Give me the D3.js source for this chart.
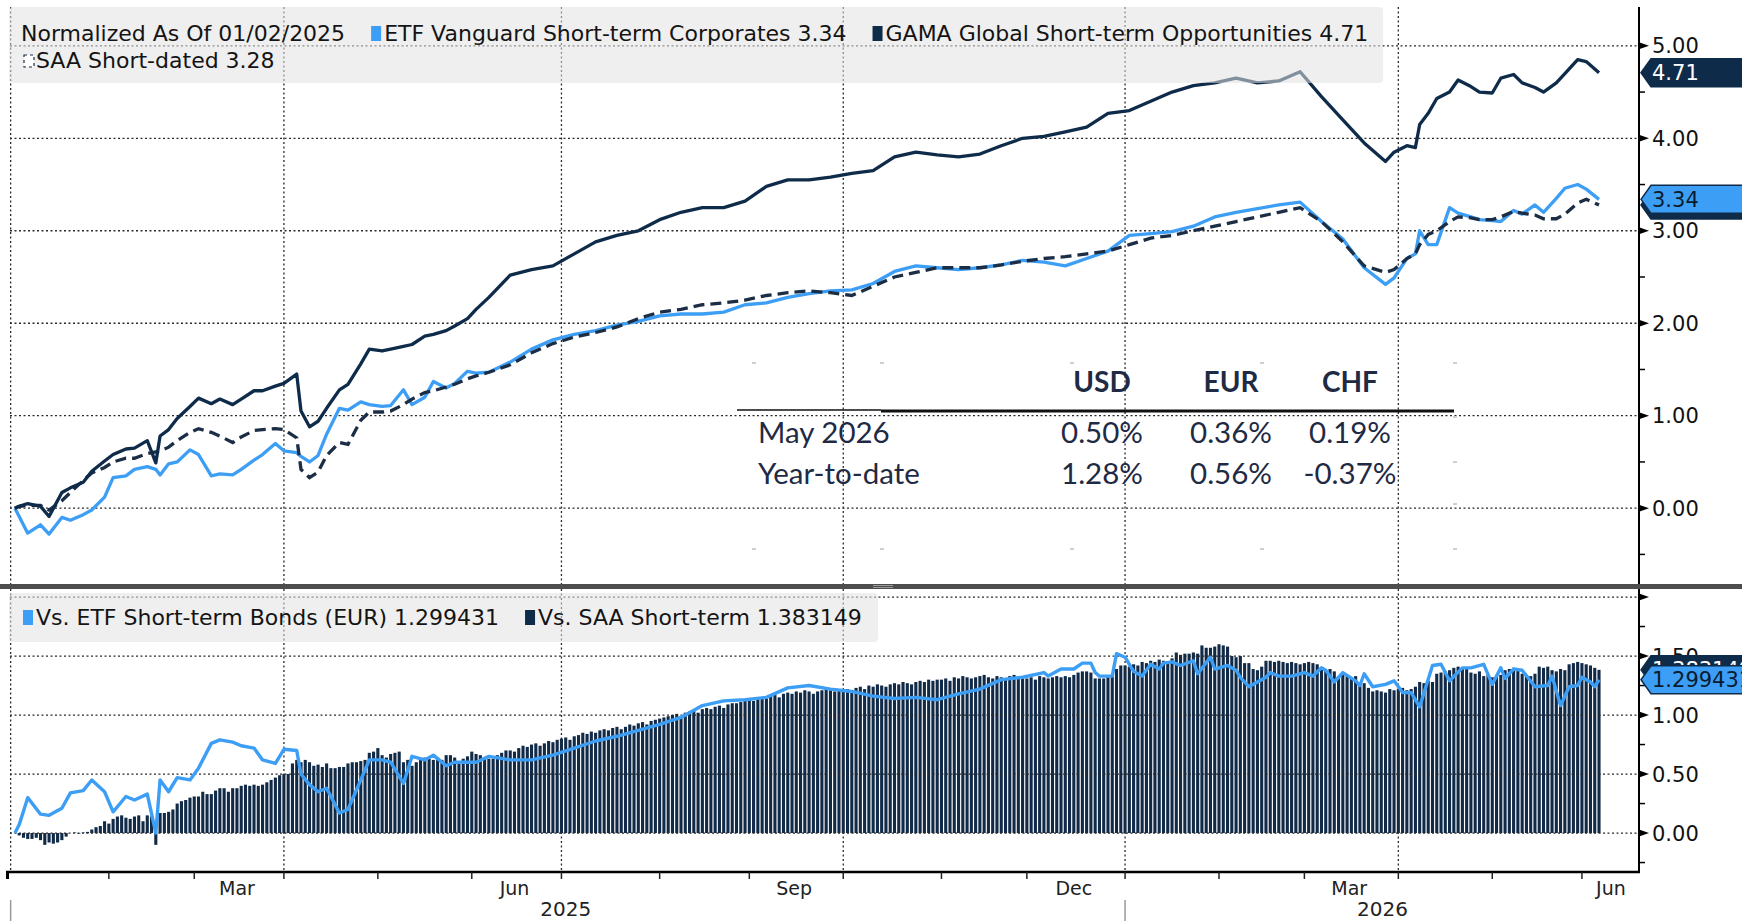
<!DOCTYPE html>
<html>
<head>
<meta charset="utf-8">
<script src="https://cdn.jsdelivr.net/npm/d3@7/dist/d3.min.js"></script>
<style>
  body { margin: 0; background: #fff; }
  svg { display: block; font-family: "DejaVu Sans", sans-serif; }
</style>
</head>
<body>
<svg id="chart" width="1742" height="921"></svg>
<script>
// ---- data ----
// top panel sample dates: twice a week where the picture could be read closely, weekly elsewhere
const lineDates = [
  '2025-01-02','2025-01-03','2025-01-07','2025-01-10','2025-01-14','2025-01-17','2025-01-21','2025-01-24','2025-01-28','2025-01-31',
  '2025-02-04','2025-02-07','2025-02-11','2025-02-14','2025-02-18','2025-02-19','2025-02-21','2025-02-25','2025-02-28',
  '2025-03-04','2025-03-07','2025-03-11','2025-03-14','2025-03-18','2025-03-21','2025-03-25','2025-03-28',
  '2025-04-01','2025-04-04','2025-04-07','2025-04-09','2025-04-11','2025-04-15','2025-04-18','2025-04-22','2025-04-25','2025-04-29',
  '2025-05-02','2025-05-06','2025-05-09','2025-05-13','2025-05-16','2025-05-20','2025-05-23','2025-05-27','2025-05-30',
  '2025-06-03','2025-06-06','2025-06-13','2025-06-20','2025-06-27',
  '2025-07-04','2025-07-11','2025-07-18','2025-07-25',
  '2025-08-01','2025-08-08','2025-08-15','2025-08-22','2025-08-29',
  '2025-09-05','2025-09-12','2025-09-19','2025-09-26',
  '2025-10-03','2025-10-10','2025-10-17','2025-10-24','2025-10-31',
  '2025-11-07','2025-11-14','2025-11-21','2025-11-28',
  '2025-12-05','2025-12-12','2025-12-19','2025-12-26',
  '2026-01-02','2026-01-09','2026-01-16','2026-01-23','2026-01-30',
  '2026-02-06','2026-02-13','2026-02-20','2026-02-27',
  '2026-03-06','2026-03-13','2026-03-20','2026-03-27','2026-03-31',
  '2026-04-03','2026-04-07','2026-04-08','2026-04-10','2026-04-14','2026-04-17','2026-04-21','2026-04-24','2026-04-28',
  '2026-05-01','2026-05-05','2026-05-08','2026-05-12','2026-05-15','2026-05-19','2026-05-22','2026-05-26','2026-05-29',
  '2026-06-02','2026-06-05'
];

const gamaValues = [
  0, 0.02, 0.05, 0.02, -0.09, 0.17, 0.22, 0.28, 0.40, 0.51,
  0.58, 0.64, 0.65, 0.73, 0.49, 0.78, 0.85, 0.97, 1.10,
  1.19, 1.13, 1.18, 1.12, 1.18, 1.27, 1.27, 1.32,
  1.35, 1.45, 1.05, 0.88, 0.94, 1.08, 1.28, 1.34, 1.56, 1.72,
  1.70, 1.72, 1.75, 1.77, 1.86, 1.88, 1.92, 1.97, 2.05,
  2.15, 2.28, 2.52, 2.58, 2.62,
  2.75, 2.88, 2.95, 3.00,
  3.12, 3.20, 3.25, 3.25, 3.32,
  3.48, 3.55, 3.55, 3.58,
  3.62, 3.65, 3.80, 3.85, 3.82,
  3.80, 3.83, 3.92, 4.00,
  4.02, 4.07, 4.12, 4.27,
  4.30, 4.40, 4.50, 4.57, 4.60,
  4.65, 4.60, 4.62, 4.72,
  4.45, 4.20, 3.95, 3.75, 3.85,
  3.92, 3.90, 4.15, 4.27, 4.43, 4.50, 4.63, 4.56, 4.50,
  4.49, 4.65, 4.69, 4.60, 4.55, 4.50, 4.60, 4.70, 4.85,
  4.83, 4.71
];

const etfValues = [
  0, -0.09, -0.27, -0.18, -0.28, -0.10, -0.13, -0.07, -0.02, 0.12,
  0.33, 0.35, 0.42, 0.45, 0.42, 0.36, 0.48, 0.50, 0.63,
  0.58, 0.35, 0.37, 0.36, 0.42, 0.52, 0.58, 0.70,
  0.62, 0.60, 0.56, 0.50, 0.57, 0.80, 1.08, 1.06, 1.15, 1.12,
  1.10, 1.11, 1.28, 1.12, 1.20, 1.37, 1.30, 1.35, 1.48,
  1.46, 1.47, 1.58, 1.72, 1.82,
  1.88, 1.92, 1.98, 2.02,
  2.08, 2.10, 2.10, 2.12, 2.20,
  2.22, 2.28, 2.32, 2.35,
  2.36, 2.43, 2.56, 2.62, 2.60,
  2.58, 2.60, 2.63, 2.68,
  2.66, 2.62, 2.70, 2.78,
  2.95, 2.97, 2.99, 3.05, 3.15,
  3.20, 3.24, 3.28, 3.31,
  3.10, 2.91, 2.60, 2.42, 2.49,
  2.70, 2.75, 3.00, 2.85, 2.85, 3.25, 3.19, 3.15, 3.12,
  3.11, 3.10, 3.22, 3.18, 3.28, 3.20, 3.35, 3.46, 3.50,
  3.45, 3.34
];

const saaValues = [
  0, 0.02, 0.03, 0.03, -0.02, 0.08, 0.17, 0.30, 0.38, 0.44,
  0.50, 0.54, 0.54, 0.59, 0.61, 0.62, 0.66, 0.73, 0.82,
  0.86, 0.82, 0.78, 0.71, 0.77, 0.84, 0.85, 0.86,
  0.85, 0.76, 0.42, 0.33, 0.39, 0.57, 0.71, 0.69, 0.95, 1.04,
  1.04, 1.05, 1.12, 1.18, 1.25, 1.27, 1.31, 1.34, 1.40,
  1.43, 1.47, 1.55, 1.68, 1.78,
  1.85, 1.90, 1.96, 2.05,
  2.12, 2.15, 2.20, 2.22, 2.25,
  2.30, 2.33, 2.35, 2.33,
  2.30, 2.40, 2.50, 2.55, 2.60,
  2.60, 2.60, 2.63, 2.67,
  2.70, 2.72, 2.75, 2.78,
  2.85, 2.92, 2.95, 3.00, 3.05,
  3.10, 3.15, 3.20, 3.25,
  3.10, 2.88, 2.62, 2.55, 2.58,
  2.70, 2.75, 2.85, 2.96, 3.00, 3.10, 3.15, 3.14, 3.12,
  3.12, 3.15, 3.21, 3.19, 3.17, 3.13, 3.13, 3.18, 3.30,
  3.34, 3.28
];

// bottom panel line has its own sample dates (read more closely from Dec 2025 on)
const vsEtfDates = [
  '2025-01-02','2025-01-03','2025-01-07','2025-01-10','2025-01-14','2025-01-17','2025-01-21','2025-01-24','2025-01-28','2025-01-31',
  '2025-02-04','2025-02-07','2025-02-11','2025-02-14','2025-02-18','2025-02-19','2025-02-21','2025-02-25','2025-02-28',
  '2025-03-04','2025-03-07','2025-03-11','2025-03-14','2025-03-18','2025-03-21','2025-03-25','2025-03-28',
  '2025-04-01','2025-04-04','2025-04-07','2025-04-09','2025-04-11','2025-04-15','2025-04-18','2025-04-22','2025-04-25','2025-04-29',
  '2025-05-02','2025-05-06','2025-05-09','2025-05-13','2025-05-16','2025-05-20','2025-05-23','2025-05-27','2025-05-30',
  '2025-06-03','2025-06-06','2025-06-13','2025-06-20','2025-06-27',
  '2025-07-04','2025-07-11','2025-07-18','2025-07-25',
  '2025-08-01','2025-08-08','2025-08-15','2025-08-22','2025-08-29',
  '2025-09-05','2025-09-12','2025-09-19','2025-09-26',
  '2025-10-03','2025-10-10','2025-10-17','2025-10-24','2025-10-31',
  '2025-11-07','2025-11-14','2025-11-21','2025-11-28','2025-12-05',
  '2025-12-08','2025-12-11','2025-12-16','2025-12-18','2025-12-22','2025-12-23','2025-12-24','2025-12-29','2025-12-30',
  '2026-01-01','2026-01-05','2026-01-07','2026-01-09','2026-01-13','2026-01-14','2026-01-16','2026-01-20','2026-01-23','2026-01-26','2026-01-29','2026-01-30',
  '2026-02-04','2026-02-06','2026-02-09','2026-02-11','2026-02-17','2026-02-18','2026-02-20','2026-02-25',
  '2026-03-02','2026-03-04','2026-03-06','2026-03-09','2026-03-11','2026-03-13','2026-03-18','2026-03-19','2026-03-20','2026-03-24','2026-03-27','2026-03-31',
  '2026-04-02','2026-04-06','2026-04-08','2026-04-13','2026-04-15','2026-04-17','2026-04-22','2026-04-24','2026-04-29',
  '2026-05-01','2026-05-05','2026-05-06','2026-05-08','2026-05-12','2026-05-15','2026-05-20','2026-05-21','2026-05-25','2026-05-27','2026-05-29',
  '2026-06-01','2026-06-03','2026-06-04','2026-06-05'
];

const vsEtfValues = [
  0, 0.07, 0.30, 0.16, 0.15, 0.21, 0.34, 0.36, 0.45, 0.35,
  0.18, 0.31, 0.28, 0.33, 0.00, 0.45, 0.35, 0.47, 0.45,
  0.55, 0.76, 0.79, 0.77, 0.74, 0.72, 0.62, 0.59,
  0.71, 0.70, 0.50, 0.41, 0.35, 0.38, 0.17, 0.20, 0.45, 0.62,
  0.62, 0.60, 0.42, 0.65, 0.62, 0.66, 0.57, 0.60, 0.60,
  0.60, 0.65, 0.62, 0.62, 0.66,
  0.72, 0.78, 0.82, 0.87,
  0.92, 0.98, 1.08, 1.12, 1.13,
  1.15, 1.23, 1.25, 1.22,
  1.20, 1.16, 1.14, 1.15, 1.13,
  1.18, 1.22, 1.30, 1.32, 1.36,
  1.33, 1.39, 1.39, 1.44, 1.44, 1.36, 1.33, 1.33, 1.52,
  1.49, 1.37, 1.33, 1.43, 1.39, 1.44, 1.45, 1.42, 1.46, 1.35, 1.49, 1.39,
  1.42, 1.38, 1.32, 1.24, 1.32, 1.36, 1.33, 1.33,
  1.36, 1.33, 1.40, 1.38, 1.28, 1.36, 1.29, 1.25, 1.35, 1.24, 1.26, 1.29,
  1.19, 1.19, 1.07, 1.42, 1.43, 1.29, 1.40, 1.40, 1.43,
  1.26, 1.40, 1.31, 1.39, 1.38, 1.24, 1.25, 1.33, 1.08, 1.24, 1.25,
  1.32, 1.28, 1.24, 1.299
];

// daily bars, every weekday from 2025-01-02 (one row per month)
const vsSaaBars = [
  0,-0.02,-0.04,-0.05,-0.05,-0.04,-0.06,-0.1,-0.08,-0.09,-0.08,-0.06,-0.03,0,0.005,-0.005,0.005,0.01,0.03,0.05,0.06,0.1,
  0.08,0.12,0.14,0.15,0.13,0.12,0.14,0.15,0.1,0.15,0.14,-0.1,0.17,0.17,0.18,0.2,0.25,0.27,0.28,0.3,
  0.31,0.31,0.35,0.33,0.33,0.36,0.38,0.38,0.35,0.38,0.38,0.4,0.41,0.4,0.41,0.4,0.41,0.43,0.45,0.47,0.49,
  0.5,0.5,0.59,0.62,0.6,0.62,0.6,0.57,0.58,0.56,0.59,0.55,0.55,0.56,0.56,0.59,0.6,0.6,0.61,0.62,0.68,0.69,
  0.72,0.66,0.64,0.67,0.68,0.69,0.6,0.62,0.57,0.6,0.62,0.64,0.63,0.62,0.64,0.62,0.66,0.66,0.64,0.61,0.63,0.65,
  0.69,0.67,0.66,0.64,0.63,0.63,0.66,0.68,0.7,0.7,0.69,0.72,0.74,0.73,0.75,0.76,0.74,0.76,0.78,0.77,0.79,
  0.8,0.81,0.79,0.82,0.83,0.85,0.84,0.86,0.85,0.87,0.88,0.87,0.89,0.9,0.88,0.9,0.92,0.91,0.93,0.94,0.92,0.95,0.96,
  0.97,0.98,0.99,1.0,1.01,0.99,1.02,1.03,1.04,1.02,1.05,1.06,1.05,1.07,1.08,1.06,1.09,1.1,1.1,1.11,1.12,
  1.13,1.12,1.14,1.15,1.14,1.16,1.17,1.15,1.18,1.19,1.18,1.2,1.19,1.21,1.2,1.18,1.2,1.21,1.22,1.21,1.2,1.22,
  1.21,1.22,1.2,1.23,1.24,1.22,1.25,1.24,1.26,1.25,1.24,1.26,1.27,1.26,1.28,1.27,1.26,1.28,1.29,1.28,1.3,1.29,1.3,
  1.3,1.31,1.29,1.32,1.31,1.33,1.32,1.31,1.32,1.33,1.34,1.32,1.31,1.33,1.32,1.31,1.33,1.34,1.32,1.31,
  1.31,1.32,1.3,1.33,1.32,1.31,1.32,1.33,1.32,1.33,1.32,1.34,1.36,1.37,1.37,1.36,1.31,1.31,1.31,1.32,1.33,1.39,1.42,
  1.42,1.41,1.43,1.42,1.45,1.44,1.46,1.45,1.47,1.46,1.45,1.48,1.53,1.51,1.52,1.52,1.53,1.52,1.59,1.57,1.57,1.58,
  1.6,1.59,1.58,1.5,1.49,1.5,1.44,1.44,1.39,1.38,1.41,1.46,1.46,1.45,1.46,1.45,1.44,1.45,1.44,1.43,
  1.44,1.45,1.44,1.43,1.39,1.38,1.39,1.37,1.33,1.34,1.33,1.32,1.33,1.25,1.27,1.23,1.2,1.21,1.2,1.19,1.22,1.21,
  1.22,1.23,1.21,1.22,1.24,1.28,1.27,1.29,1.28,1.35,1.36,1.37,1.38,1.4,1.41,1.4,1.39,1.36,1.35,1.37,1.33,1.34,
  1.32,1.33,1.34,1.38,1.39,1.4,1.38,1.35,1.34,1.33,1.35,1.41,1.4,1.41,1.38,1.37,1.39,1.38,1.43,1.44,1.45,
  1.44,1.43,1.42,1.4,1.383
];

const topTicks = [0, 1, 2, 3, 4, 5];
const topMinorTicks = [-0.5, 0.5, 1.5, 2.5, 3.5, 4.5];
const bottomTicks = [0, 0.5, 1, 1.5];
const bottomGridTicks = [0, 0.5, 1, 1.5, 2];
const bottomMinorTicks = [-0.25, 0.25, 0.75, 1.25, 1.75];
const labelledMonths = [2, 5, 8, 11]; // Mar, Jun, Sep, Dec

const tableColumns = ['USD', 'EUR', 'CHF'];
const tableRowLabels = ['May 2026', 'Year-to-date'];
const tableValues = [
  ['0.50%', '0.36%', '0.19%'],
  ['1.28%', '0.56%', '-0.37%']
];

// ---- setup ----
const svg = d3.select('#chart');
const W = 1742;
const NAVY = '#0f2b4a';
const BLUE = '#3d9ef5';
const GRID = '#2a2a2a';
const AXIS_X = 1639;

const fmtDay = d3.timeFormat('%Y-%m-%d');
const days = d3.timeDay.range(new Date(2025, 0, 1), new Date(2026, 5, 20))
  .filter(d => d.getDay() !== 0 && d.getDay() !== 6);
const dayIndex = new Map(days.map((d, i) => [fmtDay(d), i]));

// x axis is laid out by trading day
const x = d3.scaleLinear().domain([-0.15, 381.6]).range([10, 1640]);
const yTop = d3.scaleLinear().domain([-0.82, 5.42]).range([584, 7]);
const yBot = d3.scaleLinear().domain([-0.33, 2.068]).range([872, 589]);

const defs = svg.append('defs');
defs.append('clipPath').attr('id', 'clip-top')
  .append('rect').attr('x', 10).attr('y', 7).attr('width', AXIS_X - 10).attr('height', 577);
defs.append('clipPath').attr('id', 'clip-bot')
  .append('rect').attr('x', 10).attr('y', 589).attr('width', AXIS_X - 10).attr('height', 283);
defs.append('clipPath').attr('id', 'clip-tags')
  .append('rect').attr('x', AXIS_X).attr('y', 0).attr('width', W - AXIS_X).attr('height', 921);

// month boundaries (first weekday of each month)
const months = d3.timeMonth.range(new Date(2025, 0, 1), new Date(2026, 6, 1)).map(m => {
  const idx = days.map((d, i) => [d, i])
    .filter(([d]) => d.getFullYear() === m.getFullYear() && d.getMonth() === m.getMonth())
    .map(p => p[1]);
  return { date: m, first: idx[0], last: Math.min(idx[idx.length - 1], x.domain()[1]) };
});
const quarterStarts = months.filter(m => m.date.getMonth() % 3 === 0);

function gridV(g, y0, y1) {
  g.selectAll(null).data(quarterStarts).enter().append('line')
    .attr('x1', d => x(d.first)).attr('x2', d => x(d.first))
    .attr('y1', y0).attr('y2', y1)
    .attr('stroke', GRID).attr('stroke-width', 1.3).attr('stroke-dasharray', '2,2.5');
}
function gridH(g, ticks, scale) {
  g.selectAll(null).data(ticks).enter().append('line')
    .attr('x1', 10).attr('x2', AXIS_X)
    .attr('y1', d => scale(d)).attr('y2', d => scale(d))
    .attr('stroke', GRID).attr('stroke-width', 1.3).attr('stroke-dasharray', '2,2.5');
}

function seriesPoints(dates, values) {
  return dates.map((s, k) => ({ i: dayIndex.get(s), v: values[k] }))
    .filter(p => p.i !== undefined && p.v !== undefined);
}

// ---- top panel ----
const topG = svg.append('g');
gridV(topG, 7, 584);
gridH(topG, topTicks, yTop);

const topLines = topG.append('g').attr('clip-path', 'url(#clip-top)');
const lineTop = d3.line().x(d => x(d.i)).y(d => yTop(d.v));

topLines.append('path').datum(seriesPoints(lineDates, etfValues))
  .attr('d', lineTop).attr('fill', 'none').attr('stroke', BLUE)
  .attr('stroke-width', 3.3).attr('stroke-linejoin', 'round');
topLines.append('path').datum(seriesPoints(lineDates, saaValues))
  .attr('d', lineTop).attr('fill', 'none').attr('stroke', '#1b2e45')
  .attr('stroke-width', 3.3).attr('stroke-dasharray', '11,6');
topLines.append('path').datum(seriesPoints(lineDates, gamaValues))
  .attr('d', lineTop).attr('fill', 'none').attr('stroke', NAVY)
  .attr('stroke-width', 3.3).attr('stroke-linejoin', 'round');

// top legend
topG.append('rect').attr('x', 9).attr('y', 7).attr('width', 1374).attr('height', 76).attr('rx', 4)
  .attr('fill', '#e2e2e2').attr('opacity', 0.55);

const legendFont = 22;
function legendRow(g, items, x0, baseline) {
  let cx = x0;
  items.forEach(it => {
    if (it.marker) {
      if (it.marker === 'dash') {
        g.append('rect').attr('x', cx + 1).attr('y', baseline - 13).attr('width', 10).attr('height', 12)
          .attr('fill', '#fff').attr('stroke', '#1b2e45').attr('stroke-width', 1.2).attr('stroke-dasharray', '3,3');
      } else {
        g.append('rect').attr('x', cx).attr('y', baseline - 15).attr('width', 10).attr('height', 15)
          .attr('fill', it.marker);
      }
      cx += 13;
    }
    const t = g.append('text').attr('x', cx).attr('y', baseline)
      .attr('font-size', legendFont).attr('fill', '#141414').text(it.text);
    cx += t.node().getComputedTextLength() + 26;
  });
}
legendRow(topG, [
  { text: 'Normalized As Of 01/02/2025' },
  { marker: BLUE, text: 'ETF Vanguard Short-term Corporates 3.34' },
  { marker: NAVY, text: 'GAMA Global Short-term Opportunities 4.71' }
], 21, 41);
legendRow(topG, [{ marker: 'dash', text: 'SAA Short-dated 3.28' }], 23, 68);

// performance table
const table = topG.append('g').attr('font-family', 'Lato, sans-serif').attr('fill', '#1f2a44');
const colCenters = [1102, 1231, 1350];
table.selectAll(null).data(tableColumns).enter().append('text')
  .attr('x', (d, i) => colCenters[i]).attr('y', 392)
  .attr('text-anchor', 'middle').attr('font-size', 28).attr('font-weight', 700).text(d => d);
table.append('line').attr('x1', 737).attr('x2', 881).attr('y1', 410).attr('y2', 410)
  .attr('stroke', '#111').attr('stroke-width', 1.6);
table.append('line').attr('x1', 881).attr('x2', 1454).attr('y1', 411).attr('y2', 411)
  .attr('stroke', '#111').attr('stroke-width', 3.2);
tableRowLabels.forEach((lab, r) => {
  const yy = 443 + r * 41;
  table.append('text').attr('x', 758).attr('y', yy).attr('font-size', 29.5).text(lab);
  tableValues[r].forEach((v, c) => {
    table.append('text').attr('x', colCenters[c]).attr('y', yy)
      .attr('text-anchor', 'middle').attr('font-size', 29.5).text(v);
  });
});
const specks = [[754, 363], [882, 363], [1072, 363], [1262, 363], [1455, 363],
  [754, 549], [882, 549], [1072, 549], [1262, 549], [1455, 549],
  [1455, 417], [1455, 462], [1455, 504]];
topG.selectAll(null).data(specks).enter().append('rect')
  .attr('x', d => d[0] - 2).attr('y', d => d[1] - 1).attr('width', 4).attr('height', 2)
  .attr('fill', '#cfcfcf');

// ---- separator ----
svg.append('rect').attr('x', 0).attr('y', 584).attr('width', W).attr('height', 5).attr('fill', '#4d4d4d');
svg.append('line').attr('x1', 873).attr('x2', 893).attr('y1', 585.5).attr('y2', 585.5).attr('stroke', '#9a9a9a');
svg.append('line').attr('x1', 873).attr('x2', 893).attr('y1', 587.5).attr('y2', 587.5).attr('stroke', '#9a9a9a');

// ---- bottom panel ----
const botG = svg.append('g');
const barData = vsSaaBars.map((v, k) => ({ i: k + 1, v })).filter(d => d.i < days.length);
const botPlot = botG.append('g').attr('clip-path', 'url(#clip-bot)');
botPlot.selectAll('rect.bar').data(barData).enter().append('rect')
  .attr('class', 'bar')
  .attr('x', d => x(d.i) - 1.55).attr('width', 3.1)
  .attr('y', d => Math.min(yBot(d.v), yBot(0)))
  .attr('height', d => Math.abs(yBot(d.v) - yBot(0)))
  .attr('fill', '#112a47');
gridV(botG, 589, 872);
gridH(botG, bottomGridTicks, yBot);

const lineBot = d3.line().x(d => x(d.i)).y(d => yBot(d.v));
botG.append('g').attr('clip-path', 'url(#clip-bot)')
  .append('path').datum(seriesPoints(vsEtfDates, vsEtfValues))
  .attr('d', lineBot).attr('fill', 'none').attr('stroke', BLUE)
  .attr('stroke-width', 3.4).attr('stroke-linejoin', 'round');

botG.append('rect').attr('x', 9).attr('y', 593).attr('width', 869).attr('height', 49).attr('rx', 4)
  .attr('fill', '#e2e2e2').attr('opacity', 0.55);
legendRow(botG, [
  { marker: BLUE, text: 'Vs. ETF Short-term Bonds (EUR) 1.299431' },
  { marker: NAVY, text: 'Vs. SAA Short-term 1.383149' }
], 23, 625);

// ---- right axis ----
const axisG = svg.append('g');
axisG.append('line').attr('x1', AXIS_X).attr('x2', AXIS_X).attr('y1', 7).attr('y2', 584)
  .attr('stroke', '#000').attr('stroke-width', 2);
axisG.append('line').attr('x1', AXIS_X).attr('x2', AXIS_X).attr('y1', 589).attr('y2', 873)
  .attr('stroke', '#000').attr('stroke-width', 2);

function arrows(ticks, scale) {
  axisG.selectAll(null).data(ticks).enter().append('path')
    .attr('d', d => `M${AXIS_X},${scale(d) - 3.5} L${AXIS_X + 10},${scale(d)} L${AXIS_X},${scale(d) + 3.5} Z`)
    .attr('fill', '#000');
}
function minor(ticks, scale) {
  axisG.selectAll(null).data(ticks).enter().append('line')
    .attr('x1', AXIS_X).attr('x2', AXIS_X + 6)
    .attr('y1', d => scale(d)).attr('y2', d => scale(d))
    .attr('stroke', '#000').attr('stroke-width', 1.5);
}
function labels(ticks, scale) {
  axisG.selectAll(null).data(ticks).enter().append('text')
    .attr('x', 1652).attr('y', d => scale(d)).attr('dy', '0.36em')
    .attr('font-size', 21).attr('fill', '#111').text(d => d3.format('.2f')(d));
}
arrows(topTicks, yTop); minor(topMinorTicks, yTop); labels(topTicks, yTop);
arrows(bottomGridTicks, yBot); minor(bottomMinorTicks, yBot); labels(bottomTicks, yBot);

// last-value tags
const tags = svg.append('g').attr('clip-path', 'url(#clip-tags)');
function tag(v, scale, fill, textFill, label) {
  const y = scale(v), h = 28, tip = AXIS_X + 2;
  tags.append('path')
    .attr('d', `M${tip},${y} L${tip + 10},${y - h / 2} L${W + 2},${y - h / 2} L${W + 2},${y + h / 2} L${tip + 10},${y + h / 2} Z`)
    .attr('fill', fill).attr('stroke', NAVY).attr('stroke-width', 1.5);
  tags.append('text').attr('x', 1652).attr('y', y).attr('dy', '0.36em')
    .attr('font-size', 21).attr('fill', textFill).text(label);
}
tag(gamaValues[gamaValues.length - 1], yTop, NAVY, '#fff', '4.71');
tag(saaValues[saaValues.length - 1], yTop, NAVY, '#fff', '3.28');
tag(etfValues[etfValues.length - 1], yTop, BLUE, '#0b1b2e', '3.34');
tag(vsSaaBars[vsSaaBars.length - 1], yBot, NAVY, '#fff', '1.383149');
tag(vsEtfValues[vsEtfValues.length - 1], yBot, BLUE, '#0b1b2e', '1.299431');

// ---- time axis ----
const xa = svg.append('g');
xa.append('line').attr('x1', 6).attr('x2', 1640).attr('y1', 872).attr('y2', 872)
  .attr('stroke', '#000').attr('stroke-width', 2.5);
xa.append('rect').attr('x', 6).attr('y', 871).attr('width', 3).attr('height', 8).attr('fill', '#000');
xa.selectAll(null).data(months.filter(m => m.first > 0)).enter().append('line')
  .attr('x1', d => x(d.first)).attr('x2', d => x(d.first))
  .attr('y1', 872).attr('y2', 879).attr('stroke', '#222').attr('stroke-width', 1.5);
xa.selectAll(null).data(months.filter(m => labelledMonths.includes(m.date.getMonth()))).enter().append('text')
  .attr('x', d => x((d.first + d.last) / 2)).attr('y', 895)
  .attr('text-anchor', 'middle').attr('font-size', 19).attr('fill', '#222')
  .text(d => d3.timeFormat('%b')(d.date));

const years = [2025, 2026].map(yr => {
  const idx = days.map((d, i) => [d, i]).filter(([d]) => d.getFullYear() === yr).map(p => p[1]);
  return { yr, first: idx[0], last: Math.min(idx[idx.length - 1], x.domain()[1]) };
});
xa.selectAll(null).data(years).enter().append('line')
  .attr('x1', d => x(d.first)).attr('x2', d => x(d.first))
  .attr('y1', 900).attr('y2', 921).attr('stroke', '#9a9a9a').attr('stroke-width', 1.5);
xa.selectAll(null).data(years).enter().append('text')
  .attr('x', d => x((d.first + d.last) / 2)).attr('y', 916)
  .attr('text-anchor', 'middle').attr('font-size', 20).attr('fill', '#222')
  .text(d => d.yr);
</script>
</body>
</html>
